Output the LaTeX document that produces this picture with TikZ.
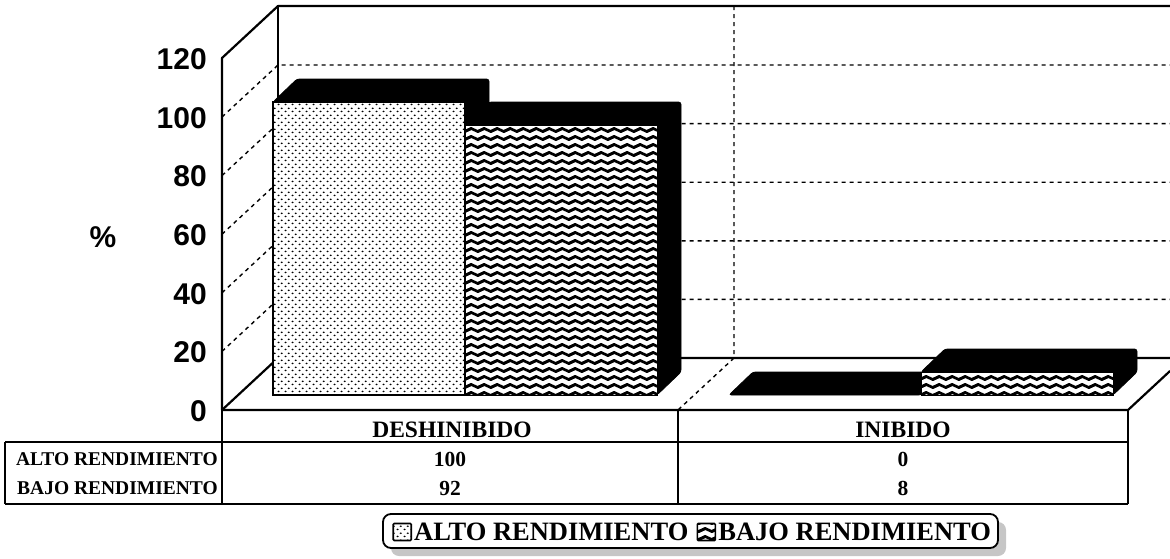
\documentclass[tikz,border=0pt]{standalone}
\usepackage{fontspec}
\setmainfont{Liberation Serif}
\newfontfamily\axisfont{Liberation Sans}
\usetikzlibrary{patterns}
\pgfdeclarepatternformonly{altodots}{\pgfqpoint{0pt}{0pt}}{\pgfqpoint{6.6pt}{6.6pt}}{\pgfqpoint{6.6pt}{6.6pt}}{%
  \pgfpathellipse{\pgfqpoint{1.65pt}{1.65pt}}{\pgfqpoint{1.2pt}{0pt}}{\pgfqpoint{0pt}{0.9pt}}%
  \pgfpathellipse{\pgfqpoint{4.95pt}{4.95pt}}{\pgfqpoint{1.2pt}{0pt}}{\pgfqpoint{0pt}{0.9pt}}%
  \pgfusepath{fill}}
\pgfdeclarepatternformonly{bajowaves}{\pgfqpoint{-3.25pt}{0pt}}{\pgfqpoint{16.25pt}{8pt}}{\pgfqpoint{13pt}{8pt}}{%
  \pgfsetlinewidth{2.7pt}%
  \pgfpathmoveto{\pgfqpoint{-3.25pt}{2.5pt}}%
  \pgfpathcosine{\pgfqpoint{3.25pt}{1.5pt}}%
  \pgfpathsine{\pgfqpoint{3.25pt}{1.5pt}}%
  \pgfpathcosine{\pgfqpoint{3.25pt}{-1.5pt}}%
  \pgfpathsine{\pgfqpoint{3.25pt}{-1.5pt}}%
  \pgfpathcosine{\pgfqpoint{3.25pt}{1.5pt}}%
  \pgfpathsine{\pgfqpoint{3.25pt}{1.5pt}}%
  \pgfusepath{stroke}}
\begin{document}
\begin{tikzpicture}[x=1pt,y=-1pt,
  wall/.style={line width=2.2pt, line join=round},
  gridline/.style={line width=1.4pt, dash pattern=on 4pt off 4pt},
  tabline/.style={line width=1.5pt},
  blackface/.style={fill=black, draw=black, line width=0.8pt, rounded corners=2.5pt},
  altoface/.style={draw=black, line width=1.6pt, preaction={fill=white}, pattern=altodots},
  bajoface/.style={draw=black, line width=1.0pt, preaction={fill=white}, pattern=bajowaves},
  axislab/.style={font=\axisfont\bfseries\fontsize{30}{30}\selectfont, anchor=east, inner sep=0pt},
  tabhead/.style={font=\bfseries\fontsize{23.5}{23.5}\selectfont, inner sep=0pt},
  rowlab/.style={font=\bfseries\fontsize{19.5}{19.5}\selectfont, inner sep=0pt, anchor=east},
  tabval/.style={font=\bfseries\fontsize{21.5}{21.5}\selectfont, inner sep=0pt},
  legtext/.style={font=\bfseries\fontsize{26.5}{26.5}\selectfont, inner sep=0pt},
  legicon/.style={draw=black, line width=1.6pt, minimum width=18pt, minimum height=17pt, inner sep=0pt, rounded corners=1pt, preaction={fill=white}}
]
\useasboundingbox (0,0) rectangle (1170,558);

% ---- walls ----
\draw[wall] (222,410) -- (222,58) -- (278,6) -- (1170,6);
\draw[wall] (278,6) -- (278,358);
% gridlines
\foreach \v in {20,40,60,80,100} {
  \draw[gridline] (222,{410-2.93*\v}) -- (278,{358-2.93*\v}) -- (1170,{358-2.93*\v});
}
% category divider on back wall and floor
\draw[gridline] (734,6) -- (734,358) -- (678,410);
% floor
\draw[wall] (222,410) -- (278,358) -- (1170,358);
\draw[wall] (222,410) -- (1128,410) -- (1170,371);

% ---- bars: DESHINIBIDO ----
\draw[blackface] (273,102) -- (297,79) -- (489,79) -- (489,372) -- (465,395) -- cycle;
\draw[altoface] (273,102) rectangle (465,395);
\draw[blackface] (465,125) -- (489,102) -- (681,102) -- (681,372) -- (657,395) -- (657,125) -- cycle;
\draw[bajoface] (465,125) rectangle (657,395);

% ---- bars: INIBIDO ----
\draw[blackface] (729,395) -- (753,372) -- (945,372) -- (921,395) -- cycle;
\draw[blackface] (921,372) -- (945,349) -- (1137,349) -- (1137,372) -- (1113,395) -- (1113,372) -- cycle;
\draw[bajoface] (921,372) rectangle (1113,395);

% ---- axis labels ----
\foreach \v in {0,20,40,60,80,100,120} {
  \node[axislab] (y\v) at (207,{411-2.93*\v}) {\v};
}
\node[axislab, anchor=center] (pct) at (103,237) {\%};

% ---- data table ----
\draw[tabline] (5,442) -- (1128,442);
\draw[tabline] (5,504) -- (1128,504);
\draw[tabline] (5,442) -- (5,504);
\draw[tabline] (222,410) -- (222,504);
\draw[tabline] (678,410) -- (678,504);
\draw[tabline] (1128,410) -- (1128,504);
\node[tabhead] (h1) at (452,430) {DESHINIBIDO};
\node[tabhead] (h2) at (903,430) {INIBIDO};
\node[rowlab] (r1) at (218,459) {ALTO RENDIMIENTO};
\node[rowlab] (r2) at (218,488) {BAJO RENDIMIENTO};
\node[tabval] (v11) at (450,459) {100};
\node[tabval] (v12) at (450,488) {92};
\node[tabval] (v21) at (903,459) {0};
\node[tabval] (v22) at (903,488) {8};

% ---- legend ----
\fill[gray!45, rounded corners=8pt] (391,522) rectangle (1006,556);
\draw[line width=1.8pt, rounded corners=8pt, fill=white] (383,514) rectangle (998,548);
\node[legtext, anchor=west] (lt1) at (414,532) {ALTO RENDIMIENTO};
\node[legicon, pattern=altodots, anchor=east] (li1) at ([xshift=-2pt]lt1.west) {};
\node[legicon, pattern=bajowaves, anchor=west] (li2) at ([xshift=8pt]lt1.east) {};
\node[legtext, anchor=west] (lt2) at ([xshift=2pt]li2.east) {BAJO RENDIMIENTO};
\end{tikzpicture}
\end{document}
